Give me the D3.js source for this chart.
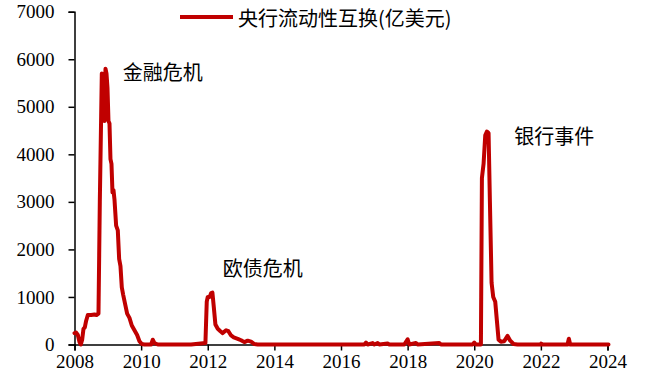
<!DOCTYPE html>
<html>
<head>
<meta charset="utf-8">
<script src="https://cdn.jsdelivr.net/npm/d3@7"></script>
<style>
  html, body { margin: 0; padding: 0; background: #fff; }
  svg { display: block; }
  .tick text { font-family: "Liberation Serif", "Times New Roman", serif; }
</style>
</head>
<body>
<svg id="chart" width="645" height="383"></svg>
<script>
// Central bank liquidity swaps outstanding (100 million USD), by decimal year
const years = [
  2008.00, 2008.05, 2008.10, 2008.15, 2008.19, 2008.23, 2008.27, 2008.31, 2008.35, 2008.40,
  2008.50, 2008.60, 2008.66, 2008.72, 2008.76, 2008.80, 2008.82, 2008.85, 2008.87, 2008.90,
  2008.93, 2008.96, 2008.99, 2009.02, 2009.05, 2009.08, 2009.11, 2009.14, 2009.17, 2009.20,
  2009.25, 2009.30, 2009.34, 2009.38, 2009.42, 2009.46, 2009.52, 2009.58, 2009.65, 2009.72,
  2009.80, 2009.88, 2009.95, 2010.02, 2010.10, 2010.30, 2010.35, 2010.40, 2010.50, 2011.00,
  2011.50, 2011.93, 2011.97, 2012.00, 2012.06, 2012.10, 2012.14, 2012.18, 2012.23, 2012.30,
  2012.38, 2012.45, 2012.55, 2012.62, 2012.70, 2012.78, 2012.90, 2013.00, 2013.10, 2013.20,
  2013.30, 2013.40, 2013.50, 2014.00, 2015.00, 2016.00, 2016.70, 2016.75, 2016.80, 2016.95,
  2017.00, 2017.10, 2017.15, 2017.40, 2017.45, 2017.90, 2018.00, 2018.05, 2018.25, 2018.30,
  2018.95, 2019.00, 2019.95, 2020.00, 2020.05, 2020.20, 2020.23, 2020.28, 2020.33, 2020.38,
  2020.43, 2020.47, 2020.52, 2020.57, 2020.63, 2020.68, 2020.73, 2020.80, 2020.90, 2021.00,
  2021.08, 2021.18, 2021.30, 2022.00, 2022.01, 2022.05, 2022.80, 2022.84, 2022.88, 2024.03
];
const swaps = [
  240, 250, 200, 50, 0, 100, 330, 360, 500, 620,
  620, 630, 620, 650, 3000, 4800, 5700, 4800, 5600, 4700,
  5800, 5700, 5400, 4700, 4650, 3900, 3800, 3200, 3250, 3050,
  2500, 2400, 1800, 1650, 1200, 1050, 850, 650, 560, 400,
  300, 200, 70, 10, 0, 0, 100, 30, 0, 0,
  0, 30, 900, 1000, 1000, 1080, 1090, 800, 420, 330,
  280, 240, 300, 280, 190, 150, 120, 90, 50, 80,
  60, 10, 0, 0, 0, 0, 0, 40, 0, 30,
  0, 30, 0, 20, 0, 0, 110, 0, 30, 0,
  30, 0, 0, 40, 0, 0, 3500, 3800, 4400, 4480,
  4450, 3000, 1300, 1000, 900, 500, 100, 60, 70, 180,
  80, 10, 0, 0, 20, 0, 0, 120, 0, 0
];
const xTicks = [2008, 2010, 2012, 2014, 2016, 2018, 2020, 2022, 2024];
const yTicks = [0, 1000, 2000, 3000, 4000, 5000, 6000, 7000];
const seriesName = "央行流动性互换(亿美元)";
const notes = [
  { text: "金融危机", year: 2009.45, value: 5750 },
  { text: "欧债危机", year: 2012.45, value: 1610 },
  { text: "银行事件", year: 2021.20, value: 4400 }
];

const svg = d3.select("#chart");
const margin = { left: 74.5, right: 37.5, top: 11.7, bottom: 38.5 };
const W = 645, H = 383;

const x = d3.scaleLinear().domain([2008, 2024]).range([margin.left, W - margin.right]);
const y = d3.scaleLinear().domain([0, 7000]).range([H - margin.bottom, margin.top]);

const serif = '"Liberation Serif", "Times New Roman", serif';
const cjk = '"Noto Sans CJK SC", "Noto Sans", sans-serif';

// x axis
const xAxis = svg.append("g")
  .attr("transform", `translate(0,${y(0)})`)
  .call(d3.axisBottom(x).tickValues(xTicks).tickFormat(d3.format("d")).tickSize(6).tickPadding(4));
xAxis.attr("font-family", serif);
xAxis.select(".domain").attr("stroke", "#000").attr("stroke-width", 1.5);
xAxis.selectAll(".tick line").attr("stroke", "#000").attr("stroke-width", 1.5);
xAxis.selectAll(".tick text")
  .style("font-family", serif).attr("font-size", 19).attr("fill", "#000");

// y axis
const yAxis = svg.append("g")
  .attr("transform", `translate(${x(2008)},0)`)
  .call(d3.axisLeft(y).tickValues(yTicks).tickFormat(d3.format("d")).tickSize(6).tickPadding(14));
yAxis.attr("font-family", serif);
yAxis.select(".domain").attr("stroke", "#000").attr("stroke-width", 1.5);
yAxis.selectAll(".tick line").attr("stroke", "#000").attr("stroke-width", 1.5);
yAxis.selectAll(".tick text")
  .style("font-family", serif).attr("font-size", 19).attr("fill", "#000");

// series line
const data = years.map((yr, i) => ({ yr, v: swaps[i] }));
const line = d3.line().x(d => x(d.yr)).y(d => y(d.v));
svg.append("path")
  .datum(data)
  .attr("d", line)
  .attr("fill", "none")
  .attr("stroke", "#C00000")
  .attr("stroke-width", 4)
  .attr("stroke-linejoin", "round")
  .attr("stroke-linecap", "round");

// event annotations
svg.selectAll("text.note")
  .data(notes)
  .enter().append("text")
  .attr("class", "note")
  .attr("x", d => x(d.year))
  .attr("y", d => y(d.value))
  .attr("dominant-baseline", "central")
  .style("font-family", cjk)
  .attr("font-size", 20)
  .attr("fill", "#000")
  .text(d => d.text);

// legend
const lg = svg.append("g").attr("transform", "translate(180,17)");
lg.append("line")
  .attr("x1", 0).attr("x2", 53).attr("y1", 0).attr("y2", 0)
  .attr("stroke", "#C00000").attr("stroke-width", 4);
lg.append("text")
  .attr("x", 58).attr("y", 0.5)
  .attr("dominant-baseline", "central")
  .style("font-family", cjk).attr("font-size", 20).attr("fill", "#000")
  .text(seriesName);
</script>
</body>
</html>
